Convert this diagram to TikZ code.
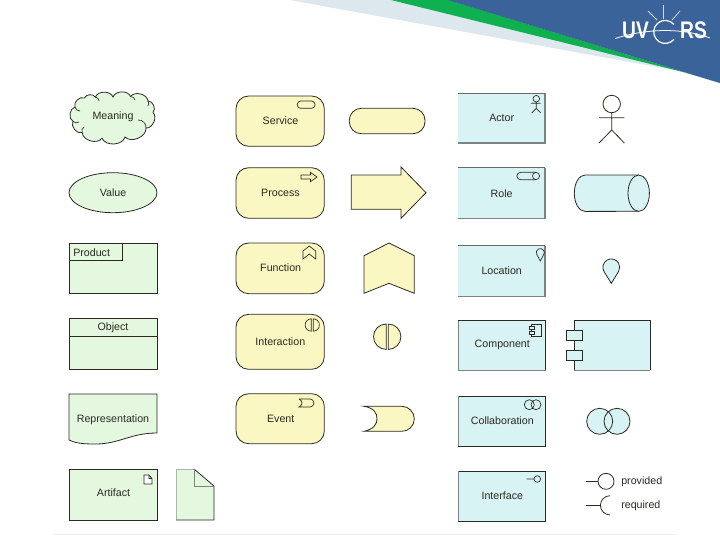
\documentclass[tikz,border=0pt]{standalone}
\usepackage{fontspec}
\setmainfont{Liberation Sans}
\definecolor{gfill}{HTML}{E4F8E0}
\definecolor{yfill}{HTML}{FBF7C2}
\definecolor{bfill}{HTML}{D8F3F3}
\definecolor{ink}{HTML}{2A2A22}
\definecolor{softedge}{HTML}{7A8480}
\definecolor{bannerblue}{HTML}{3A6399}
\definecolor{bannergreen}{HTML}{0FB04F}
\definecolor{bannerlight}{HTML}{DCE8EE}
\tikzset{
 lbl/.style={font=\fontsize{8}{9}\selectfont,text=ink,inner sep=0pt,anchor=center},
 gshape/.style={draw=ink,fill=gfill,line width=.6pt},
 yshape/.style={draw=ink,fill=yfill,line width=.6pt},
 bshape/.style={draw=ink,fill=bfill,line width=.6pt},
 yround/.style={yshape,rounded corners=9.5pt},
 icon/.style={draw=ink,line width=.5pt},
 wire/.style={draw=ink,line width=.6pt},
}
\newcommand{\softbox}[4]{%
 \fill[bfill] (#1,#2) rectangle (#3,#4);
 \draw[softedge,line width=.9pt] (#3,#2) -- (#3,#4) -- (#1,#4);
 \draw[ink!70,line width=.5pt] (#1,#2) -- (#3,#2);
}
\begin{document}
\begin{tikzpicture}[x=.75pt,y=-.75pt]
\useasboundingbox (0,0) rectangle (720,540);
\fill[white] (0,0) rectangle (720,540);
% banner
\fill[bannerlight] (290,0) -- (392,0) -- (690,73) -- cycle;
\fill[bannergreen] (391,0) -- (449,0) -- (720,83) -- (685,72.5) -- cycle;
\fill[bannerblue] (448,0) -- (720,0) -- (720,83) -- cycle;
\node[inner sep=0pt,text=white,font=\bfseries\fontsize{18}{18}\selectfont,xscale=.8] (logoa) at (635.5,30) {UV};
\node[inner sep=0pt,text=white,font=\bfseries\fontsize{18}{18}\selectfont,xscale=.8] (logob) at (693.5,30) {RS};
\draw[white,line width=.9pt] (674,24.5) arc[start angle=-40,end angle=-320,radius=11.5];
\draw[white,line width=.6pt] (615,38.5) .. controls (645,29) and (680,27) .. (710,38);
\draw[white!75!bannerblue,line width=.6pt] (663.5,5) -- (663.5,19) (648,11) -- (657,20) (680,11) -- (672,20);
% green column
\draw[gshape] (75,107) to[bend left=70] (84.4,98) to[bend left=60] (95.4,97) to[bend left=70] (113,97) to[bend left=70] (130.6,96.5) to[bend left=70] (148,101) to[bend left=70] (153,112.4) to[bend left=70] (146,128) to[bend left=70] (125.1,137) to[bend left=70] (102,138.2) to[bend left=70] (82.2,132.6) to[bend left=70] (73,121.4) to[bend left=70] cycle;
\draw[wire,line width=.5pt] (95.4,97) to[bend left=40] (99,101) (130.6,96.5) to[bend left=40] (135,100) (148,101) to[bend left=30] (148,106) (146,128) to[bend right=50] (138,120) (82.2,132.6) to[bend left=40] (84,127) (73,121.4) to[bend right=40] (79,122) (75,107) to[bend right=40] (80,111);
\node[lbl] (meaning) at (113,117) {Meaning};
\draw[gshape] (113,192.7) ellipse [x radius=44,y radius=20];
\node[lbl] (value) at (113,192.5) {Value};
\draw[gshape] (69,243) rectangle (157,293);
\draw[wire] (69,260) -| (122,243);
\node[lbl,anchor=west] (product) at (73,252.5) {Product};
\draw[gshape] (69,318.5) rectangle (157,369);
\draw[wire] (69,336) -- (157,336);
\node[lbl] (object) at (113,328) {Object};
\draw[gshape] (69,394) -- (157,394) -- (157,433) .. controls (130,433) and (120,444) .. (95,444) .. controls (82,444) and (75,443) .. (69,440) -- cycle;
\node[lbl] (repr) at (113,419.5) {Representation};
\draw[gshape] (69,469) rectangle (157,520);
\draw[icon,fill=white] (144,475) -- (149,475) -- (152,478.5) -- (152,484) -- (144,484) -- cycle (149,475) -- (149,478.5) -- (152,478.5);
\node[lbl] (artifact) at (113.5,493) {Artifact};
\fill[gfill] (176,469) -- (194,469) -- (214,486) -- (214,520) -- (176,520) -- cycle;
\draw[softedge!60,line width=.3pt] (176,469) -- (176,520) (176,469) -- (194,469);
\draw[wire] (194,469) -- (214,486) -- (214,520) -- (176,520);
\draw[softedge,line width=.6pt] (194,469) -- (194,486) -- (214,486);
% yellow column
\draw[yround] (236,96) rectangle (324.3,146.3);
\draw[icon,rounded corners=2.5pt] (297.3,101) rectangle (315,108.3);
\node[lbl] (service) at (280.5,120.5) {Service};
\draw[yshape,rounded corners=9pt] (349.3,108.3) rectangle (425,133.7);
\draw[yround] (236,167.7) rectangle (324.3,218.3);
\draw[icon] (301,175) -- (310.5,175) -- (310.5,172.3) -- (317,177) -- (310.5,181.7) -- (310.5,179) -- (301,179) -- cycle;
\node[lbl] (process) at (280.5,192.5) {Process};
\draw[yshape] (351.3,175) -- (401,175) -- (401,167) -- (426,192.7) -- (401,218.3) -- (401,209.3) -- (351.3,209.3) -- cycle;
\draw[yround] (236,243) rectangle (324.3,293.7);
\draw[icon] (303,251) -- (309.3,246) -- (315.7,251) -- (315.7,259) -- (309.3,254) -- (303,259) -- cycle;
\node[lbl] (function) at (280.7,268) {Function};
\draw[yshape] (364,255.7) -- (389,243) -- (414.3,255.7) -- (414.3,293.3) -- (389,283.3) -- (364,293.3) -- cycle;
\draw[yround] (236,314.3) rectangle (324.3,369.3);
\draw[icon] (311.3,318.8) arc[start angle=-90,end angle=-270,radius=6.2] -- cycle;
\draw[icon] (313.2,318.8) arc[start angle=-90,end angle=90,radius=6.2] -- cycle;
\node[lbl] (interaction) at (280.3,341.7) {Interaction};
\draw[yshape] (386.2,324) arc[start angle=-90,end angle=-270,radius=12.7] -- cycle;
\draw[yshape] (388.2,324) arc[start angle=-90,end angle=90,radius=12.7] -- cycle;
\draw[yround] (236,393.7) rectangle (324.3,443.7);
\draw[icon] (299,399) -- (310,399) arc[start angle=-90,end angle=90,radius=4] -- (299,407) .. controls (303,405) and (303,401) .. (299,399);
\node[lbl] (event) at (280.7,419.3) {Event};
\draw[yshape] (364,406.3) -- (401.8,406.3) arc[start angle=-90,end angle=90,radius=12.5] -- (364,431.3) .. controls (374,429) and (377,424) .. (377,418.8) .. controls (377,413) and (374,408) .. (364,406.3) -- cycle;
% blue column
\softbox{458}{93}{545}{143}
\draw[icon] (536.3,98.7) circle[radius=3.3] (536.3,102) -- (536.3,108.3) (531,103.3) -- (540.7,103.3) (531.7,113) -- (536.3,108.3) -- (540.7,113);
\node[lbl] (actor) at (501.7,117.7) {Actor};
\draw[wire] (611.7,104) circle[radius=8.7] (611.7,112.7) -- (611.7,130) (599,117.7) -- (624.3,117.7) (599,143) -- (611.7,130) -- (624.3,143);
\softbox{458}{167.7}{545}{218.3}
\draw[icon] (536,172.3) -- (520.5,172.3) arc[start angle=270,end angle=90,radius=3.7] -- (536,179.7);
\draw[icon] (536,176) circle[radius=3.6];
\node[lbl] (role) at (501.7,193.3) {Role};
\draw[bshape] (638.7,175) -- (585,175) arc[start angle=-90,end angle=-270,x radius=10.7,y radius=18.2] -- (638.7,211.3);
\draw[bshape] (638.7,193.2) ellipse[x radius=10.7,y radius=18.2];
\softbox{458}{245.7}{545}{296.3}
\draw[icon] (540.3,261) -- (536.8,254.5) arc[start angle=150,end angle=390,radius=4] -- cycle;
\node[lbl] (location) at (501.7,270.3) {Location};
\draw[bshape] (611.3,283.3) -- (604,271.5) arc[start angle=150,end angle=390,radius=8.4] -- cycle;
\fill[bfill] (458,320.3) rectangle (545.7,370.3);
\draw[softedge,line width=.5pt] (458,320.3) -- (458,370.3) (458,370.3) -- (545.7,370.3);
\draw[wire] (458,320.3) -- (545.7,320.3) -- (545.7,370.3);
\draw[icon] (531.7,324) rectangle (541.7,336.7);
\draw[icon,fill=bfill] (529.3,326.7) rectangle (534,329.7) (529.3,331) rectangle (534,334);
\node[lbl] (component) at (502.3,345.3) {Component};
\fill[bfill] (574.3,320.3) rectangle (650,370.3);
\draw[softedge,line width=.5pt] (574.3,370.3) -- (650,370.3);
\draw[wire] (574.3,370.3) -- (574.3,320.3) -- (650,320.3) -- (650,370.3);
\draw[bshape] (566.7,330.7) rectangle (582.7,340.7);
\draw[bshape] (566.7,350.7) rectangle (582.7,360.7);
\fill[bfill] (458,396) rectangle (545.7,446);
\draw[wire] (458,446) -- (545.7,446) -- (545.7,396) -- (458,396);
\draw[softedge,line width=.4pt] (458,396) -- (458,446);
\draw[icon] (529.3,404.7) circle[radius=5] (536,404.7) circle[radius=5];
\node[lbl] (collab) at (502.3,420.3) {Collaboration};
\fill[bfill] (599.7,421.3) circle[radius=13] (617,421.3) circle[radius=13];
\draw[wire] (599.7,421.3) circle[radius=13] (617,421.3) circle[radius=13];
\fill[bfill] (458,471.3) rectangle (545.7,521.3);
\draw[wire] (458,521.3) -- (545.7,521.3) -- (545.7,471.3) -- (458,471.3);
\draw[softedge,line width=.4pt] (458,471.3) -- (458,521.3);
\draw[icon] (526.7,479) -- (534,479) (537.3,479) circle[radius=3.3];
\node[lbl] (interface) at (502.3,496) {Interface};
\node[lbl,anchor=west] (provided) at (621,481.3) {provided};
\node[lbl,anchor=west] (required) at (621,505.3) {required};
\node[circle,wire,minimum size=12pt,inner sep=0pt] (pcirc) at (606,481.3) {};
\coordinate (pend) at (586,481.3);
\draw[wire] (pend) -- (pcirc);
\coordinate (rend) at (586,505.3);
\coordinate (rarc) at (600.3,505.3);
\draw[wire] (rend) -- (rarc);
\draw[wire] (610,495.7) arc[start angle=-90,end angle=-270,radius=9.6];
\draw[black!6,line width=.6pt] (53,534) -- (676,534);
\end{tikzpicture}
\end{document}
